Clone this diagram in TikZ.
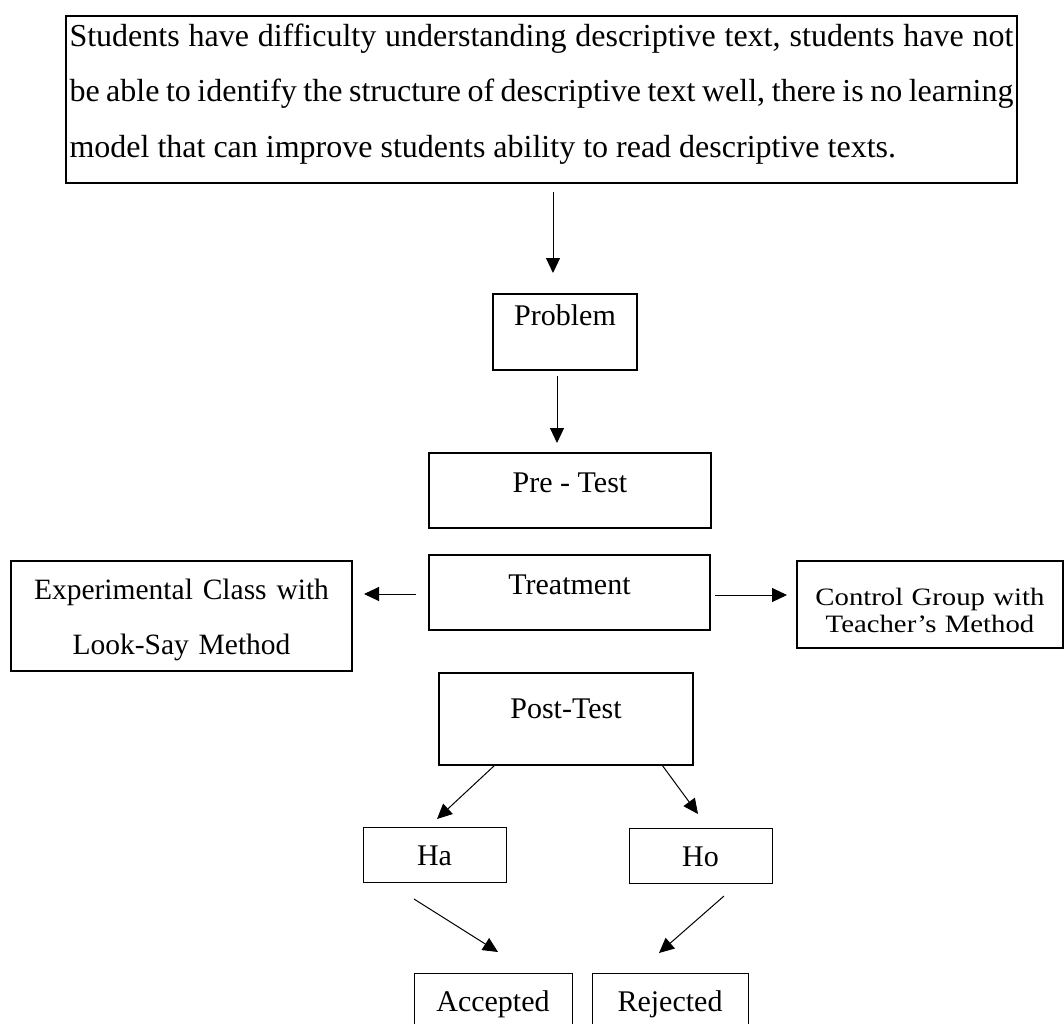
\documentclass[tikz,border=0pt]{standalone}
\usepackage{fontspec}
\setmainfont{Liberation Serif}
\newfontfamily\widefont[FakeStretch=1.15]{Liberation Serif}
\usetikzlibrary{positioning, arrows.meta}

\begin{document}
\begin{tikzpicture}[
            x=1pt, y=1pt,
            box/.style={rectangle, draw, line width=2pt, inner sep=0pt, outer sep=0pt, anchor=north, font=\fontsize{30}{36}\selectfont},
            thinbox/.style={box, line width=1pt},
            arr/.style={-{Triangle[length=15pt, width=14pt]}, line width=1pt},
            every node/.style={align=center}
        ]
        \useasboundingbox (0,0) rectangle (1064,-1023);

        % Blocks
        \node[box, text width=944pt, inner xsep=3.5pt, align=justify, text height=30pt, text depth=137pt, font=\fontsize{32}{55.5}\selectfont] (issue) at (541.5,-16)
            {Students have difficulty understanding descriptive text, students have not\linebreak
             be able to identify the structure of descriptive text well, there is no learning\linebreak
             model that can improve students ability to read descriptive texts.};
        \node[box, minimum width=144pt, text height=31pt, text depth=45pt] (problem) at (565,-294) {Problem};
        \node[box, minimum width=282pt, text height=39pt, text depth=36pt] (pretest) at (570,-453) {Pre - Test};
        \node[box, minimum width=281pt, text height=39pt, text depth=36pt] (treatment) at (569.5,-555) {Treatment};

        % the two groups
        \node[box, text width=341pt, text height=38pt, text depth=72pt, font=\fontsize{29.5}{55}\selectfont] (experimental) at (181.5,-561) {Experimental Class with\\Look-Say Method};
        \node[box, text width=266pt, text height=44pt, text depth=43pt, font=\widefont\fontsize{25}{27}\selectfont] (control) at (930,-561) {Control Group with\\Teacher’s Method};

        \node[box, minimum width=254pt, text height=45pt, text depth=47pt] (posttest) at (566,-673) {Post-Test};

        % hypotheses
        \node[thinbox, minimum width=143pt, text height=38pt, text depth=17pt] (ha) at (434.5,-827) {Ha};
        \node[thinbox, minimum width=143pt, text height=38pt, text depth=17pt] (ho) at (700.5,-828) {Ho};
        \node[thinbox, minimum width=158pt, text height=38pt, text depth=40pt] (accepted) at (493,-973) {Accepted};
        \node[thinbox, minimum width=156pt, text height=38pt, text depth=40pt] (rejected) at (670,-973) {Rejected};

        \draw[arr] ([shift={(11.5pt,-9pt)}]issue.south) -- ([shift={(-12pt,21pt)}]problem.north);
        \draw[arr] ([shift={(-8pt,-6pt)}]problem.south) -- ([shift={(-13pt,10pt)}]pretest.north);

        \draw[arr] ([shift={(-13pt,-1.5pt)}]treatment.west) -- ([shift={(12pt,22pt)}]experimental.east);
        \draw[arr] ([shift={(5pt,-2.5pt)}]treatment.east) -- ([shift={(-10pt,9.5pt)}]control.west);

        \draw[arr] ([xshift=-71pt]posttest.south) -- ([shift={(2.5pt,8pt)}]ha.north);
        \draw[arr] ([xshift=96pt]posttest.south) -- ([shift={(-2.5pt,14pt)}]ho.north);

        \draw[arr] ([shift={(-20.5pt,-17pt)}]ha.south) -- ([shift={(5pt,21pt)}]accepted.north);
        \draw[arr] ([shift={(23.5pt,-13pt)}]ho.south) -- ([shift={(-11pt,20pt)}]rejected.north);

    \end{tikzpicture}
\end{document}
